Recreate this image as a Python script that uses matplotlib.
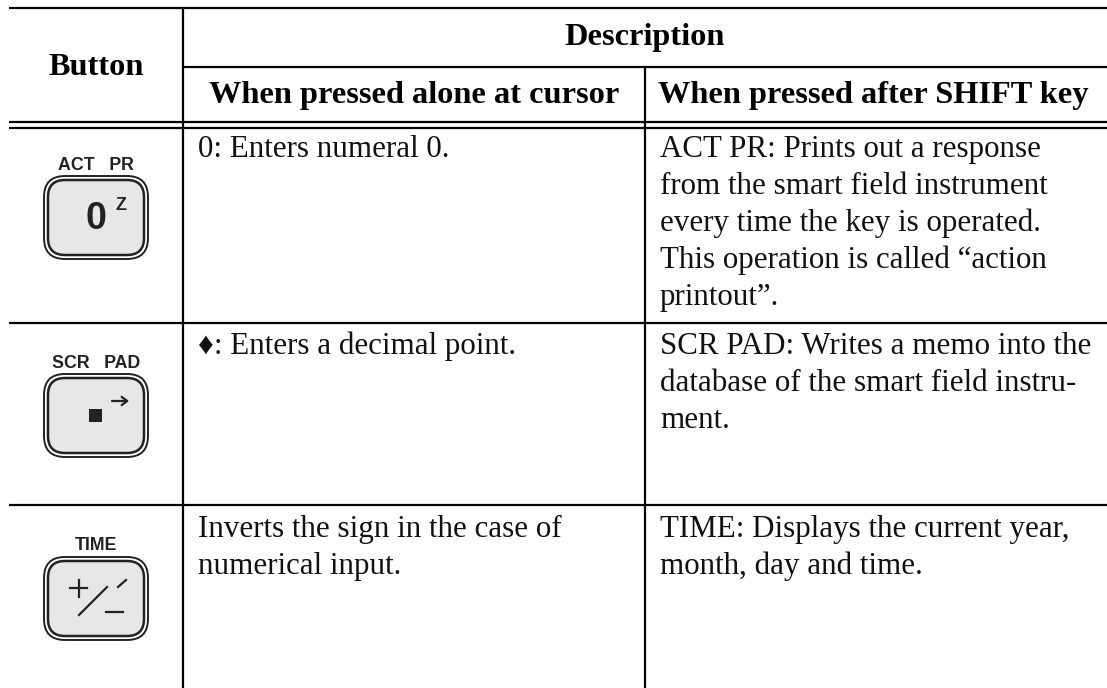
import matplotlib
matplotlib.use('Agg')
import matplotlib.pyplot as plt
import matplotlib.patches as patches

SERIF = 'Liberation Serif'
SANS = 'Liberation Sans'

col_heads = ['When pressed alone at cursor', 'When pressed after SHIFT key']
key_labels = ['ACT   PR', 'SCR   PAD', 'TIME']
alone_text = ['0: Enters numeral 0.',
              '\u2666: Enters a decimal point.',
              'Inverts the sign in the case of\nnumerical input.']
shift_text = ['ACT PR: Prints out a response\nfrom the smart field instrument\nevery time the key is operated.\nThis operation is called \u201caction\nprintout\u201d.',
              'SCR PAD: Writes a memo into the\ndatabase of the smart field instru-\nment.',
              'TIME: Displays the current year,\nmonth, day and time.']
row_baselines = [157, 354, 537]
key_tops = [176, 374, 557]
LINE_H = 37
INK = '#222222'


def drawKey(ax_, top):
    # two nested rounded boxes give the double border
    x0, x1 = 44, 148
    h = 83
    for pad, fc, lw, r in [(0, 'white', 1.4, 21), (4, '#e6e7e7', 1.8, 17)]:
        box = patches.FancyBboxPatch((x0 + pad + 12, top + pad + 12),
                                     x1 - x0 - 2 * pad - 24, h - 2 * pad - 24,
                                     boxstyle=f'round,pad=12,rounding_size={r}',
                                     linewidth=lw, edgecolor=INK, facecolor=fc)
        ax_.add_patch(box)


def drawLines(ax_, x, base, txt):
    lines = txt.split('\n')
    for i in range(len(lines)):
        ax_.text(x, base + i * LINE_H, lines[i], family=[SERIF, 'DejaVu Sans'], fontsize=22.3,
                 va='baseline', ha='left', color='#111111')


fig = plt.figure(figsize=(11.07, 6.88), dpi=100)
ax = fig.add_axes([0, 0, 1, 1])
ax.set_xlim(0, 1107)
ax.set_ylim(688, 0)
ax.axis('off')

# table rules
for y in [7.5, 122, 128, 323, 505]:
    ax.plot([9, 1107], [y, y], color='black', lw=1.6, solid_capstyle='butt')
ax.plot([183, 1107], [67, 67], color='black', lw=1.6, solid_capstyle='butt')
ax.plot([183, 183], [7, 688], color='black', lw=1.6, solid_capstyle='butt')
ax.plot([645, 645], [67, 688], color='black', lw=1.6, solid_capstyle='butt')

# header
head = dict(family=SERIF, fontweight='bold', fontsize=23.3, ha='center', va='baseline', color='black')
ax.text(96, 75, 'Button', **head)
ax.text(645, 45, 'Description', **head)
ax.text(414.5, 103, col_heads[0], **head)
ax.text(873.5, 103, col_heads[1], **head)

# body
for i in range(3):
    drawLines(ax, 198, row_baselines[i], alone_text[i])
    drawLines(ax, 660, row_baselines[i], shift_text[i])
    drawKey(ax, key_tops[i])
    ax.text(96, key_tops[i] - 11, key_labels[i], family=SANS, fontweight='bold', fontsize=12.8,
            ha='center', va='center', color=INK)

# key faces
ax.text(96, 219, '0', family=SANS, fontweight='bold', fontsize=27, ha='center', va='center', color=INK)
ax.text(121, 206, 'Z', family=SANS, fontweight='bold', fontsize=13, ha='center', va='center', color=INK)
ax.add_patch(patches.Rectangle((89, 409), 13, 13, facecolor=INK, edgecolor='none'))
ax.annotate('', xy=(129, 401), xytext=(112, 401),
            arrowprops=dict(arrowstyle='->,head_width=0.3,head_length=0.4', lw=1.6, color=INK,
                            shrinkA=0, shrinkB=0))
# +/- key
ax.plot([70, 87], [588, 588], color=INK, lw=1.6)
ax.plot([78.5, 78.5], [579.5, 597], color=INK, lw=1.6)
ax.plot([79, 107], [615, 587], color=INK, lw=1.6)
ax.plot([118, 126], [587, 580], color=INK, lw=1.6)
ax.plot([106, 123], [612, 612], color=INK, lw=1.6)

fig.savefig('out.png', dpi=100)
